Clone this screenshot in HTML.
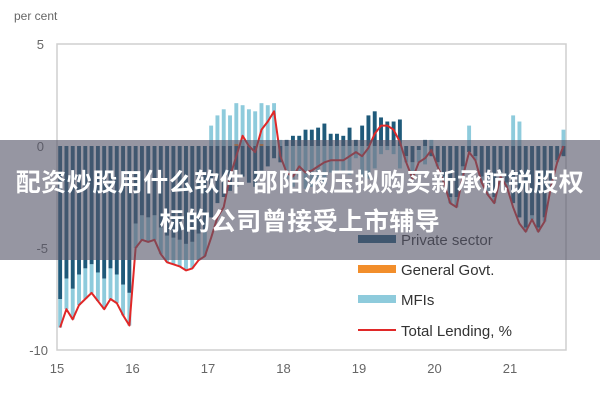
<!DOCTYPE html>
<html><head><meta charset="utf-8"><style>
html,body{margin:0;padding:0;background:#fff;width:600px;height:400px;overflow:hidden}
svg{display:block}
.banner{position:absolute;left:0;top:140px;width:600px;height:120px;background:rgba(85,85,105,0.62);color:#fff;font-family:"Liberation Sans","Noto Sans CJK SC",sans-serif;font-weight:bold;font-size:25px;text-align:center;line-height:39px;padding-top:24px;box-sizing:border-box;letter-spacing:0.5px}
</style></head><body>
<div style="position:relative;width:600px;height:400px">
<svg id="chart" width="600" height="400"></svg>
<div class="banner">配资炒股用什么软件 邵阳液压拟购买新承航锐股权<br>标的公司曾接受上市辅导</div>
</div>
<script>
const yTicks=[5,0,-5,-10];
const yearLabels=["15","16","17","18","19","20","21"];
const totalLending=[-8.9,-8.0,-8.5,-7.8,-7.5,-7.2,-7.6,-8.0,-7.5,-7.7,-8.3,-8.8,
-5.0,-4.6,-4.7,-4.6,-5.3,-5.7,-5.8,-5.9,-6.1,-6.0,-5.6,-5.4,
-4.5,-3.5,-3.0,-1.5,-0.5,0.5,0.0,-0.3,0.8,1.2,1.7,-0.5,
-1.3,-1.5,-1.0,-1.3,-1.2,-1.0,-0.8,-0.7,-0.7,-0.7,-0.5,-0.3,
-0.5,-0.1,0.6,1.0,1.0,0.8,0.2,-0.8,-1.6,-0.8,-0.6,-0.2,
-1.0,-1.8,-2.8,-3.0,-1.5,-0.3,-0.7,-1.8,-2.4,-2.8,-1.5,-2.0,
-3.0,-3.8,-4.2,-3.6,-4.2,-3.7,-2.0,-0.8,0.0];
const privateSector=[-7.5,-6.5,-7,-6.3,-6,-5.8,-6.2,-6.5,-6,-6.3,-6.8,-7.2,
-3.8,-3.4,-3.5,-3.4,-4,-4.4,-4.5,-4.6,-4.8,-4.7,-4.3,-4.1,
-3.5,-2.8,-2.5,-2.2,-2,-1.5,-1.8,-2,-1.2,-1,-0.6,-0.8,
0.3,0.5,0.5,0.8,0.8,0.9,1.1,0.6,0.6,0.5,0.9,0.3,
1.0,1.5,1.7,1.4,1.2,1.2,1.3,-0.5,-0.8,-0.2,0.3,-0.5,
-0.8,-1.5,-2.5,-2.5,-1,-0.3,-0.5,-1.5,-2,-2.5,-1.3,-1.8,
-2.8,-3.5,-4,-3.4,-4,-3.5,-1.8,-0.7,-0.5];
const generalGovt=[0,0,0,0,0,0,0,0,0,0,0,0,0,0,0,0,0,0,0,0,0,0,0,0,
0,0,0,0,0.1,0,0,0,0.1,0,0,0,0,0,0,0,0,0,0,0,0,0,0,0,
0,0,0,0,0,0,0,0,0,0,0,0,0,0,0,0,0,0,0,0,0,0,0,0,0,0,0,0,0,0,0,0,0];
const mfis=[-1.4,-1.5,-1.5,-1.5,-1.5,-1.4,-1.4,-1.5,-1.5,-1.4,-1.5,-1.6,
-1.2,-1.2,-1.2,-1.2,-1.3,-1.3,-1.3,-1.3,-1.3,-1.3,-1.3,-1.3,
1,1.5,1.8,1.5,2,2,1.8,1.7,2,2,2.1,0.3,
-1.6,-2,-1.5,-2.1,-2,-1.9,-1.9,-1.3,-1.3,-1.2,-1.4,-0.6,
-1.5,-1.6,-1.1,-0.4,-0.2,-0.4,-1.1,-0.3,-0.8,-0.6,-0.9,0.3,
-0.2,-0.3,-0.3,-0.5,-0.5,1,-0.2,-0.3,-0.4,-0.3,-0.2,-0.2,
1.5,1.2,-0.2,-0.2,-0.2,-0.2,-0.2,-0.1,0.8];

const NS="http://www.w3.org/2000/svg";
const svg=document.getElementById('chart');
const L=57,R=566,T=44,B=350;
const monthW=75.5/12;
const xM=i=>L+i*monthW+monthW/2;
const xYear=k=>L+k*75.5;
const y=v=>T+(5-v)*(B-T)/15;
function mk(tag,attrs){const e=document.createElementNS(NS,tag);for(const k in attrs)e.setAttribute(k,attrs[k]);svg.appendChild(e);return e;}

let t=mk('text',{x:14,y:20,'font-family':'Liberation Sans, sans-serif','font-size':12,fill:'#666'});t.textContent='per cent';


let frame=mk('rect',{x:L,y:T,width:R-L,height:B-T,fill:'none',stroke:'#cfcfcf','stroke-width':1.5});


yTicks.forEach(v=>{
 const tt=mk('text',{x:v<0?48:44,y:y(v)+5,'text-anchor':'end','font-family':'Liberation Sans, sans-serif','font-size':13,fill:'#666'});
 tt.textContent=v;
 
 
});
yearLabels.forEach((s,k)=>{
 const tt=mk('text',{x:xYear(k),y:373,'text-anchor':'middle','font-family':'Liberation Sans, sans-serif','font-size':13,fill:'#666'});
 tt.textContent=s;
 
 
});
const bw=monthW*0.62;
function seg(i,a,b,col,name){
 const r=mk('rect',{x:xM(i)-bw/2,y:Math.min(y(a),y(b)),width:bw,height:Math.abs(y(a)-y(b)),fill:col});
 
 
}
for(let i=0;i<totalLending.length;i++){
 let pos=0,neg=0;
 [[privateSector[i],'#1f5a7a','bar-private'],[generalGovt[i],'#f28e2b','bar-govt'],[mfis[i],'#8ecbdc','bar-mfi']].forEach(([v,c,n])=>{
  if(v>=0){seg(i,pos,pos+v,c,n);pos+=v;}else{seg(i,neg,neg+v,c,n);neg+=v;}
 });
}
const pts=totalLending.map((v,i)=>xM(i).toFixed(1)+','+y(v).toFixed(1)).join(' ');
const line=mk('polyline',{points:pts,fill:'none',stroke:'#e02828','stroke-width':2,'stroke-linejoin':'round'});


const leg=[['Private sector','#1f5a7a',239,'rect'],['General Govt.','#f28e2b',269,'rect'],['MFIs','#8ecbdc',299,'rect'],['Total Lending, %','#e02828',330,'line']];
leg.forEach(([lab,c,yy,kind])=>{
 const s=kind==='rect'?mk('rect',{x:358,y:yy-4,width:38,height:8,fill:c}):mk('rect',{x:358,y:yy-1,width:38,height:2,fill:c});
 
 
 const tx=mk('text',{x:401,y:yy+6,'font-family':'Liberation Sans, sans-serif','font-size':15,fill:'#333'});
 tx.textContent=lab;
 
 
});
</script>
</body></html>
